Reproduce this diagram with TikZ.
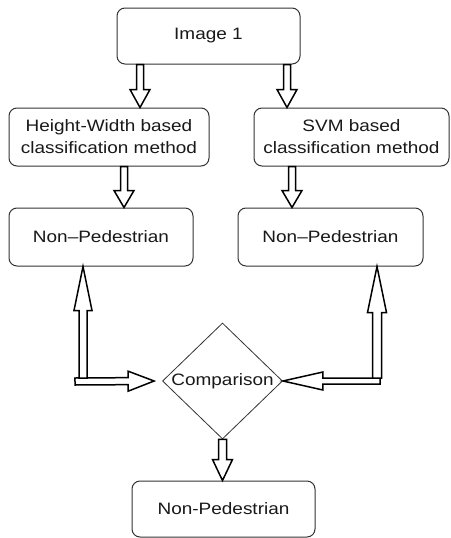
\documentclass[tikz,border=0pt]{standalone}
\usepackage{fontspec}
\setmainfont{Liberation Sans}[FakeStretch=1.15]
\usetikzlibrary{calc,shapes.geometric}
\newcommand\blockarr[5]{%
  \path (#1) coordinate (bas) (#2) coordinate (bae);
  \path ($(bae)!#3!(bas)$) coordinate (bah);
  \draw[barrow] ($(bas)!#4!90:(bae)$) -- ($(bah)!#4!90:(bae)$) -- ($(bah)!#5!90:(bae)$) -- (bae)
    -- ($(bah)!#5!-90:(bae)$) -- ($(bah)!#4!-90:(bae)$) -- ($(bas)!#4!-90:(bae)$) -- cycle;
}
\begin{document}
\begin{tikzpicture}[x=1pt,y=-1pt,
  box/.style={draw=black!80, line width=1pt, rounded corners=8pt, inner sep=0pt,
    align=center, text=black!90, font=\fontsize{16.5}{22}\selectfont},
  barrow/.style={draw=black, line width=1.5pt, fill=white, line join=miter},
  dia/.style={diamond, draw=black!80, line width=0.8pt, inner sep=0pt, aspect=1.03,
    minimum width=120pt, minimum height=116pt, text=black!90, font=\fontsize{16.5}{22}\selectfont}]
\useasboundingbox[fill=white] (0,0) rectangle (450,538);

\node[box, minimum width=183pt, minimum height=56pt] (img) at (208.5,36) {Image 1};
\node[box, minimum width=200pt, minimum height=58pt] (hw) at (109,137) {Height-Width based\\classification method};
\node[box, minimum width=195pt, minimum height=58pt] (svm) at (351.5,137) {SVM based\\classification method};
\node[box, minimum width=184pt, minimum height=58pt] (np1) at (101,237) {Non–Pedestrian};
\node[box, minimum width=185pt, minimum height=58pt] (np2) at (330.5,237) {Non–Pedestrian};
\node[dia] (cmp) at (222.5,381) {Comparison};
\node[box, minimum width=183pt, minimum height=56pt] (np3) at (223.5,509) {Non-Pedestrian};

\coordinate (lh) at (75,381.5);
\coordinate (lv) at (83,378);
\coordinate (rh) at (380,381);
\coordinate (rv) at (377,378);

% downward arrows
\blockarr{$(img.south)+(-68.5,0)$}{$(hw.north)+(31,0)$}{18pt}{3.5pt}{10pt}
\blockarr{$(img.south)+(78.5,0)$}{$(svm.north)+(-64.5,0)$}{18pt}{3.5pt}{10pt}
\blockarr{$(hw.south)+(15,0)$}{$(np1.north)+(23,0)$}{17pt}{3.5pt}{10pt}
\blockarr{$(svm.south)+(-59.5,0)$}{$(np2.north)+(-38.5,0)$}{17pt}{3.5pt}{10pt}
\blockarr{cmp.south}{np3.north -| cmp.south}{21pt}{4pt}{10pt}

% left L
\blockarr{lh}{$(cmp.west)+(-8,0)$}{26pt}{3.5pt}{10pt}
\blockarr{lv}{$(np1.south)+(-18,0)$}{44pt}{4pt}{9pt}
% right L
\blockarr{rh}{cmp.east}{40pt}{3pt}{9pt}
\blockarr{rv}{$(np2.south)+(46.5,0)$}{46pt}{4.5pt}{9.5pt}
\end{tikzpicture}
\end{document}
